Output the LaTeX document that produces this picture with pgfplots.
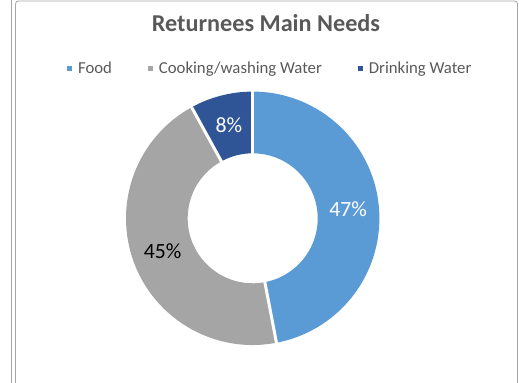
\documentclass[border=0pt]{standalone}
\usepackage{fontspec}
\setmainfont{Carlito}
\usepackage{pgfplots}
\usepackage{pgfplotstable}
\pgfplotsset{compat=1.18}
\definecolor{food}{HTML}{5B9BD5}
\definecolor{cook}{HTML}{A5A5A5}
\definecolor{drink}{HTML}{2F5597}
\definecolor{txt}{HTML}{595959}
\definecolor{framec}{HTML}{A6A6A6}

\pgfplotstableread{
share
47
45
8
}\needs

% shares -> angles, clockwise from 12 o'clock
\pgfplotstablegetelem{0}{share}\of\needs \global\let\va\pgfplotsretval
\pgfplotstablegetelem{1}{share}\of\needs \global\let\vb\pgfplotsretval
\pgfplotstablegetelem{2}{share}\of\needs \global\let\vc\pgfplotsretval
\pgfmathsetmacro\tot{\va+\vb+\vc}
\pgfmathsetmacro\aA{90}
\pgfmathsetmacro\aB{\aA-360*(\va/\tot)}
\pgfmathsetmacro\aC{\aB-360*(\vb/\tot)}
\pgfmathsetmacro\aD{\aC-360*(\vc/\tot)}
\pgfmathsetmacro\mA{(\aA+\aB)/2}
\pgfmathsetmacro\mB{(\aB+\aC)/2}
\pgfmathsetmacro\mC{(\aC+\aD)/2}
\def\Ro{126.7bp}
\def\Ri{65bp}
\def\Rm{95.8bp}

\begin{document}
\begin{tikzpicture}
\useasboundingbox (0,0) rectangle (519bp,383bp);
\begin{axis}[
    at={(0,0)}, anchor=origin,
    width=519bp, height=383bp, scale only axis,
    xmin=0, xmax=519, ymin=0, ymax=383,
    hide axis, clip=false,
    legend columns=3,
    legend image code/.code={\fill[#1, draw=none] (0bp,-2.5bp) rectangle (5bp,2.5bp);},
    legend style={at={(axis cs:269.2,314.3)}, anchor=center, draw=none, fill=none,
        font=\fontsize{16.8}{19}\selectfont, text=txt,
        nodes={inner sep=0pt},
        /tikz/every odd column/.append style={column sep=6bp},
        /tikz/every even column/.append style={column sep=36bp}},
]
\addlegendimage{fill=food}
\addlegendentry{Food}
\addlegendimage{fill=cook}
\addlegendentry{Cooking/washing Water}
\addlegendimage{fill=drink}
\addlegendentry{Drinking Water}

% frame
\draw[framec, line width=0.8bp] (axis cs:11.5,0) -- (axis cs:11.5,383);
\draw[framec, line width=0.8bp, rounded corners=3bp] (axis cs:15.5,0) -- (axis cs:15.5,382) -- (axis cs:517.5,382) -- (axis cs:517.5,0);

\node[font=\bfseries\fontsize{24.3}{28}\selectfont, text=txt, anchor=base] at (axis cs:266,351.3) {Returnees Main Needs};
\coordinate (ctr) at (axis cs:252.7,164.7);
\end{axis}

% donut, centred on the axis point ctr
\begin{scope}[shift={(ctr)}]
\fill[food] (\aA:\Ro) arc[start angle=\aA, end angle=\aB, radius=\Ro] -- (\aB:\Ri) arc[start angle=\aB, end angle=\aA, radius=\Ri] -- cycle;
\fill[cook] (\aB:\Ro) arc[start angle=\aB, end angle=\aC, radius=\Ro] -- (\aC:\Ri) arc[start angle=\aC, end angle=\aB, radius=\Ri] -- cycle;
\fill[drink] (\aC:\Ro) arc[start angle=\aC, end angle=\aD, radius=\Ro] -- (\aD:\Ri) arc[start angle=\aD, end angle=\aC, radius=\Ri] -- cycle;
\foreach \a in {\aA,\aB,\aC}
    \draw[white, line width=3bp] (\a:63bp) -- (\a:129bp);
\node[text=white, font=\fontsize{21.8}{24}\selectfont] at (\mA:\Rm) {\va\%};
\node[text=black, font=\fontsize{21.8}{24}\selectfont] at (\mB:\Rm) {\vb\%};
\node[text=white, font=\fontsize{21.8}{24}\selectfont] at (\mC:\Rm) {\vc\%};
\end{scope}
\end{tikzpicture}
\end{document}
